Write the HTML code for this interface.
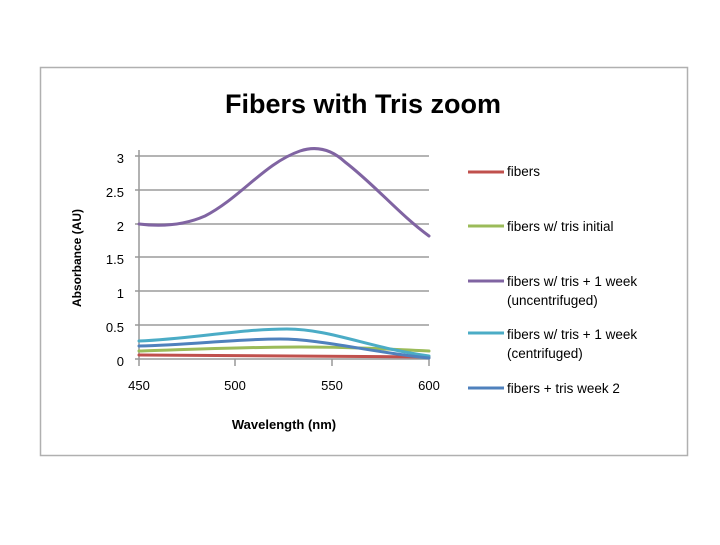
<!DOCTYPE html>
<html><head><style>
body{margin:0;background:#fff;width:720px;height:540px;overflow:hidden;font-family:"Liberation Sans",sans-serif}
</style></head><body>
<svg width="720" height="540" xmlns="http://www.w3.org/2000/svg" font-family="Liberation Sans, sans-serif">
<rect x="40.5" y="67.5" width="647" height="388" fill="#fff" stroke="#b0b0b0" stroke-width="1.5"/>
<text x="363" y="113" font-size="27" font-weight="bold" text-anchor="middle" fill="#000">Fibers with Tris zoom</text>
<g stroke="#b4b4b4" stroke-width="2">
<line x1="139" y1="156" x2="429" y2="156"/><line x1="139" y1="190" x2="429" y2="190"/>
<line x1="139" y1="224" x2="429" y2="224"/><line x1="139" y1="257" x2="429" y2="257"/>
<line x1="139" y1="291" x2="429" y2="291"/><line x1="139" y1="325" x2="429" y2="325"/>
</g>
<g stroke="#999" stroke-width="1.5">
<line x1="139" y1="150" x2="139" y2="366"/><line x1="139" y1="359" x2="429" y2="359"/>
<line x1="135" y1="156" x2="139" y2="156"/><line x1="135" y1="190" x2="139" y2="190"/><line x1="135" y1="224" x2="139" y2="224"/><line x1="135" y1="257" x2="139" y2="257"/><line x1="135" y1="291" x2="139" y2="291"/><line x1="135" y1="325" x2="139" y2="325"/><line x1="135" y1="359" x2="139" y2="359"/>
<line x1="235" y1="359" x2="235" y2="366"/><line x1="332" y1="359" x2="332" y2="366"/><line x1="429" y1="359" x2="429" y2="366"/>
</g>
<g font-size="13" fill="#000" text-anchor="end">
<text x="124" y="163">3</text><text x="124" y="197">2.5</text><text x="124" y="231">2</text><text x="124" y="264">1.5</text><text x="124" y="298">1</text><text x="124" y="332">0.5</text><text x="124" y="366">0</text>
</g>
<g font-size="13" fill="#000" text-anchor="middle">
<text x="139" y="390">450</text><text x="235" y="390">500</text><text x="332" y="390">550</text><text x="429" y="390">600</text>
</g>
<text x="284" y="429" font-size="13" font-weight="bold" text-anchor="middle">Wavelength (nm)</text>
<text transform="translate(81,258) rotate(-90)" font-size="12" font-weight="bold" text-anchor="middle">Absorbance (AU)</text>
<g fill="none" stroke-width="3" stroke-linecap="round">
<path d="M139,355 L429,357" stroke="#c0504d"/>
<path d="M139,351 C200,349 250,347 300,347 C350,347 390,349 429,351" stroke="#9bbb59"/>
<path d="M139,224 C155,226 180,227 205,216 C240,198 265,163 300,151 C315,146 330,148 345,162 C375,185 400,215 429,236" stroke="#8064a2"/>
<path d="M139,341 C190,339 240,329 287,329 C330,329 370,348 429,356" stroke="#4bacc6"/>
<path d="M139,346 C190,345 235,339 280,339 C320,339 370,352 429,358" stroke="#4f81bd"/>
</g>
<g stroke-width="3">
<line x1="468" y1="172" x2="504" y2="172" stroke="#c0504d"/>
<line x1="468" y1="226" x2="504" y2="226" stroke="#9bbb59"/>
<line x1="468" y1="281" x2="504" y2="281" stroke="#8064a2"/>
<line x1="468" y1="333" x2="504" y2="333" stroke="#4bacc6"/>
<line x1="468" y1="388" x2="504" y2="388" stroke="#4f81bd"/>
</g>
<g font-size="13.5" fill="#000">
<text x="507" y="176">fibers</text>
<text x="507" y="231">fibers w/ tris initial</text>
<text x="507" y="286">fibers w/ tris + 1 week</text>
<text x="507" y="305">(uncentrifuged)</text>
<text x="507" y="339">fibers w/ tris + 1 week</text>
<text x="507" y="358">(centrifuged)</text>
<text x="507" y="393">fibers + tris week 2</text>
</g>
</svg>
</body></html>
